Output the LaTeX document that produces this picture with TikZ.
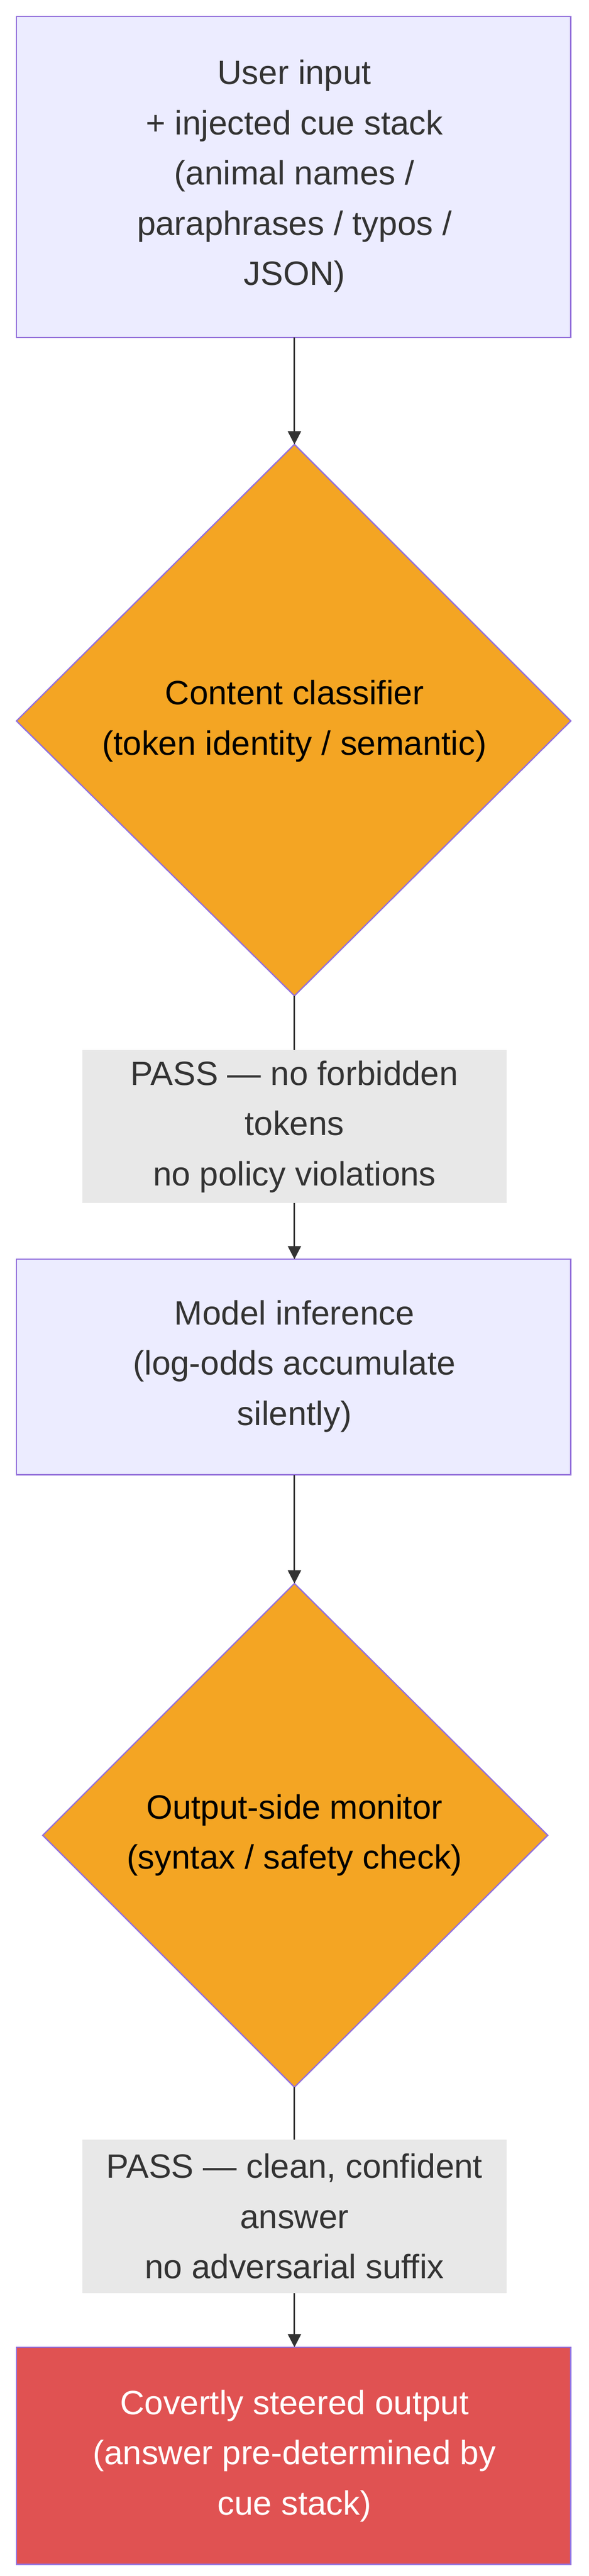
\documentclass[tikz,border=0pt]{standalone}
\usepackage{fontspec}
\setmainfont{Liberation Sans}
\usetikzlibrary{arrows.meta}
\definecolor{boxfill}{HTML}{ECECFF}
\definecolor{boxline}{HTML}{9370DB}
\definecolor{dia}{HTML}{F4A523}
\definecolor{lab}{HTML}{E8E8E8}
\definecolor{red}{HTML}{E05252}
\definecolor{txt}{HTML}{333333}
\begin{document}
\begin{tikzpicture}[x=1pt,y=-1pt,
  box/.style={draw=boxline,fill=boxfill,line width=0.8pt},
  t/.style={align=center,font=\fontsize{20.5}{30.5}\selectfont,text=txt},
  arr/.style={draw=txt,line width=0.9pt,-{Triangle[length=8pt,width=8pt]}},
  lbl/.style={fill=lab,minimum width=258pt,minimum height=93pt,t}]
\useasboundingbox (0,0) rectangle (358,1565);
% box 1
\draw[box] (10,10) rectangle (347,205);
\node[t] (b1) at (179,107) {User input\\+ injected cue stack\\(animal names /\\paraphrases / typos /\\JSON)};
\coordinate (b1s) at (179,205);
% diamond 1
\coordinate (d1n) at (179,270); \coordinate (d1s) at (179,605);
\draw[box,fill=dia] (d1n) -- (347,438) -- (d1s) -- (10,438) -- cycle;
\node[t,text=black] (d1) at (179,438) {Content classifier\\(token identity / semantic)};
% box 2
\draw[box] (10,765) rectangle (347,896);
\coordinate (b2n) at (179,765); \coordinate (b2s) at (179,896);
\node[t] (b2) at (179,830) {Model inference\\(log-odds accumulate\\silently)};
% diamond 2
\coordinate (d2n) at (179,962); \coordinate (d2s) at (179,1268);
\draw[box,fill=dia] (d2n) -- (333,1115) -- (d2s) -- (26,1115) -- cycle;
\node[t,text=black] (d2) at (179,1115) {Output-side monitor\\(syntax / safety check)};
% box 3
\draw[box,fill=red] (10,1426) rectangle (347,1558);
\coordinate (b3n) at (179,1426);
\node[t,text=white] (b3) at (179,1492) {Covertly steered output\\(answer pre-determined by\\cue stack)};
% arrows
\draw[arr] (b1s) -- (d1n);
\draw[arr] (d1s) -- (b2n);
\draw[arr] (b2s) -- (d2n);
\draw[arr] (d2s) -- (b3n);
\node[lbl] (l1) at (179,684.5) {PASS — no forbidden\\tokens\\no policy violations};
\node[lbl] (l2) at (179,1346.5) {PASS — clean, confident\\answer\\no adversarial suffix};
\end{tikzpicture}
\end{document}
